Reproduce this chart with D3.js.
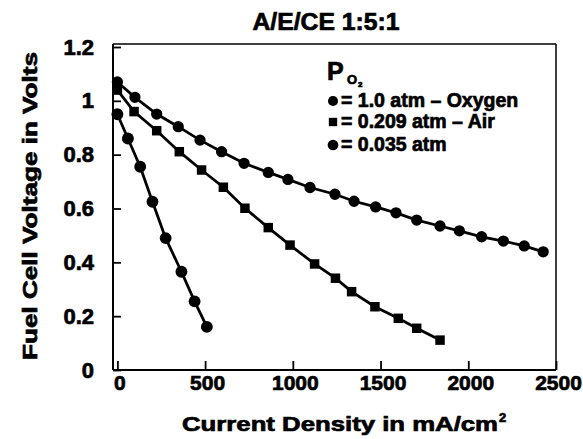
<!DOCTYPE html>
<html>
<head>
<meta charset="utf-8">
<script src="https://cdn.jsdelivr.net/npm/d3@7"></script>
<style>
  body { margin: 0; background: #fff; }
  svg { display: block; }
  text { font-family: "Liberation Sans", Arial, sans-serif; font-weight: bold; fill: #000; stroke: #000; stroke-width: 0.7px; }
</style>
</head>
<body>
<svg id="chart" width="583" height="439"></svg>
<script>
// values (current in mA/cm2, voltage in V)
const o2Current = [0, 100, 224, 347, 471, 594, 722, 860, 972, 1098, 1240, 1349, 1472, 1588, 1706, 1839, 1949, 2076, 2200, 2319, 2427];
const o2Volts   = [1.07, 1.013, 0.951, 0.904, 0.854, 0.811, 0.768, 0.734, 0.708, 0.678, 0.653, 0.627, 0.606, 0.584, 0.557, 0.535, 0.517, 0.495, 0.479, 0.461, 0.439];

const airCurrent = [0, 95, 224, 353, 480, 604, 727, 860, 984, 1124, 1243, 1335, 1468, 1601, 1706, 1839];
const airVolts   = [1.04, 0.96, 0.889, 0.811, 0.743, 0.679, 0.601, 0.529, 0.464, 0.394, 0.341, 0.291, 0.235, 0.192, 0.155, 0.111];

const lowCurrent = [0, 60, 130, 200, 275, 365, 440, 510];
const lowVolts   = [0.95, 0.86, 0.755, 0.625, 0.49, 0.365, 0.255, 0.16];

const xTicks = [0, 500, 1000, 1500, 2000, 2500];
const yTicks = [0, 0.2, 0.4, 0.6, 0.8, 1, 1.2];
const legendLabels = ["= 1.0 atm \u2013 Oxygen", "= 0.209 atm \u2013 Air", "= 0.035 atm"];

var svg = d3.select("#chart");

var x = d3.scaleLinear().domain([-25, 2500]).range([113, 556]);
var y = d3.scaleLinear().domain([0, 1.2]).range([370, 47]);

// frame
svg.append("line").attr("x1", 113).attr("x2", 556).attr("y1", 44).attr("y2", 44)
  .attr("stroke", "#000").attr("stroke-width", 1.3);
svg.append("line").attr("x1", 556).attr("x2", 556).attr("y1", 44).attr("y2", 370)
  .attr("stroke", "#000").attr("stroke-width", 1.5);
svg.append("line").attr("x1", 113).attr("x2", 113).attr("y1", 44).attr("y2", 370)
  .attr("stroke", "#000").attr("stroke-width", 2);
svg.append("line").attr("x1", 113).attr("x2", 556).attr("y1", 370).attr("y2", 370)
  .attr("stroke", "#000").attr("stroke-width", 2);

// axes
var xAxis = svg.append("g")
  .attr("transform", "translate(0,370)")
  .call(d3.axisBottom(x).tickValues(xTicks).tickSizeInner(-9).tickSizeOuter(0).tickPadding(5)
    .tickFormat(function(d) { return d; }));
xAxis.select(".domain").remove();
xAxis.selectAll("line").attr("stroke-width", 1.8);
xAxis.selectAll("text").attr("font-size", 21).attr("font-family", null).attr("dx", 2);

var yAxis = svg.append("g")
  .attr("transform", "translate(113,0)")
  .call(d3.axisLeft(y).tickValues(yTicks).tickSizeInner(-8).tickSizeOuter(0).tickPadding(19)
    .tickFormat(function(d) { return d; }));
yAxis.select(".domain").remove();
yAxis.selectAll("line").attr("stroke-width", 1.8);
yAxis.selectAll("text").attr("font-size", 22).attr("font-family", null);

// titles
svg.append("text").attr("x", 326).attr("y", 30).attr("text-anchor", "middle")
  .attr("font-size", 24).attr("textLength", 147).attr("lengthAdjust", "spacingAndGlyphs")
  .text("A/E/CE 1:5:1");

svg.append("text").attr("transform", "translate(37,206) rotate(-90)").attr("text-anchor", "middle")
  .attr("font-size", 20).attr("textLength", 308).attr("lengthAdjust", "spacingAndGlyphs")
  .text("Fuel Cell Voltage in Volts");

svg.append("text").attr("x", 182).attr("y", 431)
  .attr("font-size", 21).attr("textLength", 316).attr("lengthAdjust", "spacingAndGlyphs")
  .text("Current Density in mA/cm");
svg.append("text").attr("x", 499).attr("y", 422).attr("font-size", 13).text("2");

// series
var series = [
  { cur: o2Current, v: o2Volts, sym: d3.symbolCircle, size: 100 },
  { cur: airCurrent, v: airVolts, sym: d3.symbolSquare, size: 90 },
  { cur: lowCurrent, v: lowVolts, sym: d3.symbolCircle, size: 110 }
];

var line = d3.line()
  .x(function(d) { return x(d[0]); })
  .y(function(d) { return y(d[1]); });

series.forEach(function(s) {
  var pts = s.cur.map(function(c, i) { return [c, s.v[i]]; });
  svg.append("path").datum(pts)
    .attr("fill", "none").attr("stroke", "#000").attr("stroke-width", 2.8)
    .attr("d", line);
  svg.selectAll(null).data(pts).enter().append("path")
    .attr("transform", function(d) { return "translate(" + x(d[0]) + "," + y(d[1]) + ")"; })
    .attr("d", d3.symbol().type(s.sym).size(s.size))
    .attr("fill", "#000");
});

// legend
var lg = svg.append("g");
lg.append("text").attr("x", 327).attr("y", 80).attr("font-size", 25).text("P");
lg.append("text").attr("x", 347).attr("y", 84).attr("font-size", 13).text("O");
lg.append("text").attr("x", 358).attr("y", 87).attr("font-size", 8).text("2");

var legendY = [101, 122, 145];
legendLabels.forEach(function(label, i) {
  lg.append("path")
    .attr("transform", "translate(333," + legendY[i] + ")")
    .attr("d", d3.symbol().type(series[i].sym).size(series[i].size - 20))
    .attr("fill", "#000");
  lg.append("text").attr("x", 341).attr("y", legendY[i] + 6).attr("font-size", 19.5).text(label);
});
</script>
</body>
</html>
